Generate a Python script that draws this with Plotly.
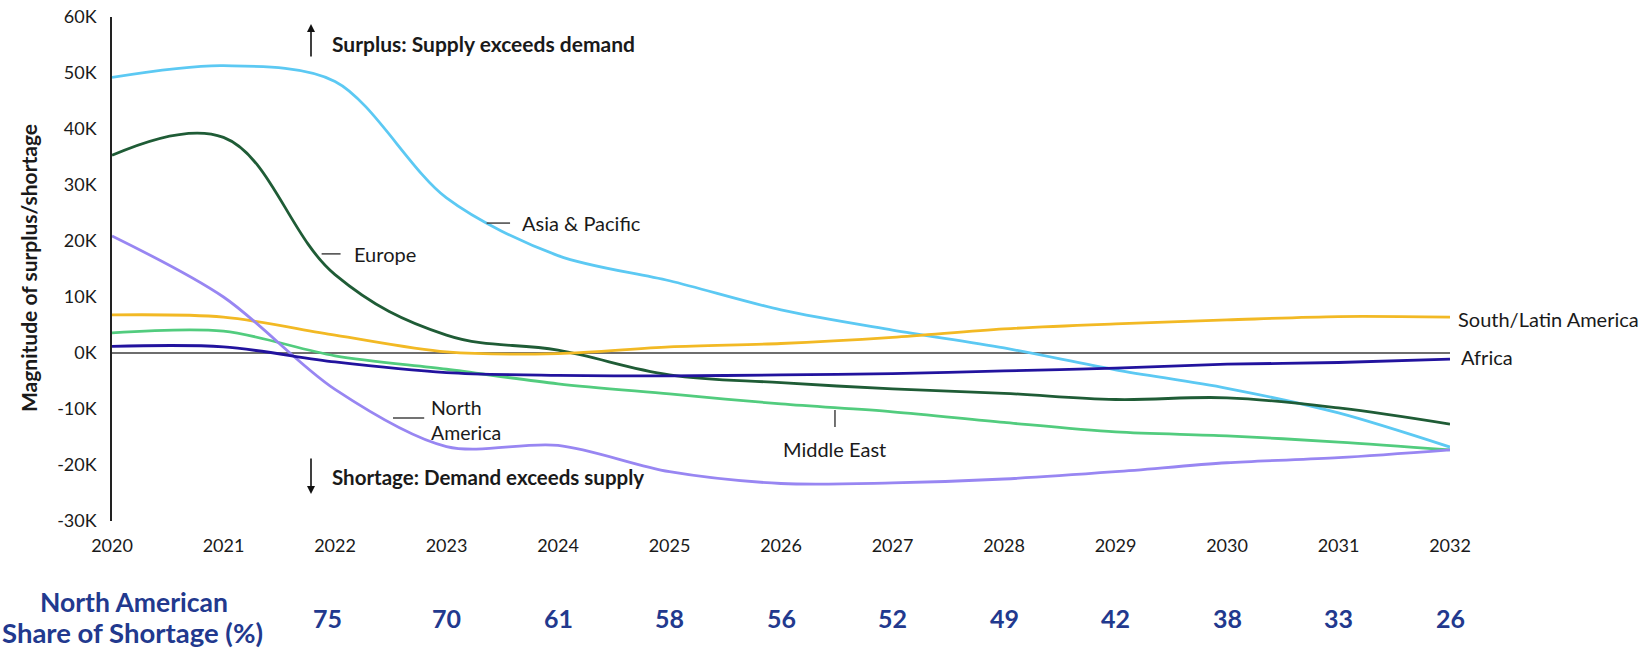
import plotly.graph_objects as go

years = list(range(2020, 2033))

asia_pacific = [49200, 51300, 48500, 27700, 17400, 12900, 7700, 4100, 900, -3000, -6300, -10700, -16800]
europe = [35300, 38500, 14000, 3200, 500, -3900, -5300, -6400, -7200, -8300, -8000, -9800, -12700]
north_america = [20900, 10000, -6500, -16700, -16500, -21200, -23300, -23200, -22500, -21200, -19600, -18700, -17300]
south_latin_america = [6800, 6400, 3200, 200, -100, 1100, 1700, 2800, 4300, 5200, 5900, 6500, 6400]
middle_east = [3600, 3900, -500, -2900, -5500, -7300, -9100, -10500, -12400, -14100, -14800, -15900, -17300]
africa = [1200, 1100, -1600, -3500, -4000, -4100, -3900, -3700, -3200, -2700, -2000, -1700, -1100]

share_years = list(range(2022, 2033))
na_share = [75, 70, 61, 58, 56, 52, 49, 42, 38, 33, 26]

y_ticks = [60000, 50000, 40000, 30000, 20000, 10000, 0, -10000, -20000, -30000]
y_tick_labels = ["60K", "50K", "40K", "30K", "20K", "10K", "0K", "-10K", "-20K", "-30K"]

FONT = "Lato"
TXT = "#1a1a1a"
NAVY = "#22398E"

series = [
    ("Asia & Pacific", asia_pacific, "#5CC9F3", 0.9),
    ("Europe", europe, "#1F5C36", 1.1),
    ("South/Latin America", south_latin_america, "#F2B924", 0.9),
    ("Middle East", middle_east, "#52CC7E", 0.9),
    ("North America", north_america, "#9886F2", 0.9),
    ("Africa", africa, "#22139E", 0.9),
]

fig = go.Figure()
for name, vals, col, sm in series:
    fig.add_trace(go.Scatter(
        x=years, y=vals, name=name, mode="lines",
        line=dict(color=col, width=2.8, shape="spline", smoothing=sm),
        showlegend=False, hoverinfo="x+y+name",
    ))

L, R, T, B = 112, 192, 17, 130
W, H = 1642, 651
pw, ph = W - L - R, H - T - B


def px(xp):
    return (xp - L) / pw


def py(yp):
    return (H - B - yp) / ph


ann = []
# axis title
ann.append(dict(x=px(28), y=py(268), xref="paper", yref="paper", text="<b>Magnitude of surplus/shortage</b>",
                textangle=-90, showarrow=False, xanchor="center", yanchor="middle",
                font=dict(family=FONT, size=21, color=TXT)))
# surplus / shortage notes with arrows
ann.append(dict(x=px(311), y=py(24), xref="paper", yref="paper", ax=0, ay=34, text="",
                showarrow=True, arrowhead=2, arrowsize=1, arrowwidth=1.6, arrowcolor="#111"))
ann.append(dict(x=px(311), y=py(494), xref="paper", yref="paper", ax=0, ay=-37, text="",
                showarrow=True, arrowhead=2, arrowsize=1, arrowwidth=1.6, arrowcolor="#111"))
ann.append(dict(x=px(330), y=py(43), xref="paper", yref="paper", text="<b>Surplus: Supply exceeds demand</b>",
                showarrow=False, xanchor="left", yanchor="middle", font=dict(family=FONT, size=21, color=TXT)))
ann.append(dict(x=px(330), y=py(477), xref="paper", yref="paper", text="<b>Shortage: Demand exceeds supply</b>",
                showarrow=False, xanchor="left", yanchor="middle", font=dict(family=FONT, size=20.5, color=TXT)))

# series labels (data coords)
lab_font = dict(family=FONT, size=20, color=TXT)
ann.append(dict(x=2023.66, y=23200, text="Asia &amp; Pacific", showarrow=False, xanchor="left", yanchor="middle", font=lab_font))
ann.append(dict(x=2022.15, y=17700, text="Europe", showarrow=False, xanchor="left", yanchor="middle", font=lab_font))
ann.append(dict(x=2022.84, y=-12000, text="North<br>America", showarrow=False, xanchor="left", yanchor="middle", align="left",
                font=dict(family=FONT, size=19.5, color=TXT)))
ann.append(dict(x=2026.484, y=-17100, text="Middle East", showarrow=False, xanchor="center", yanchor="middle", font=lab_font))
ann.append(dict(x=2032, y=6000, xshift=6, text="South/Latin America", showarrow=False, xanchor="left", yanchor="middle", font=lab_font))
ann.append(dict(x=2032, y=-700, xshift=9, text="Africa", showarrow=False, xanchor="left", yanchor="middle", font=lab_font))

# bottom table
ann.append(dict(x=px(134), y=py(602), xref="paper", yref="paper",
                text="<b>North American</b>", showarrow=False,
                xanchor="center", yanchor="middle",
                font=dict(family=FONT, size=26.5, color=NAVY)))
ann.append(dict(x=px(132), y=py(632), xref="paper", yref="paper",
                text="<b>Share of Shortage (%)</b>", showarrow=False,
                xanchor="center", yanchor="middle",
                font=dict(family=FONT, size=27.5, color=NAVY)))
for i, (yr, v) in enumerate(zip(share_years, na_share)):
    ann.append(dict(x=yr, y=py(618), xref="x", yref="paper", text=f"<b>{v}</b>", showarrow=False,
                    xshift=-8 if i == 0 else 0,
                    xanchor="center", yanchor="middle", font=dict(family=FONT, size=25, color=NAVY)))

shapes = []
lead = dict(color="#444", width=1.5)
shapes.append(dict(type="line", xref="x", yref="y", x0=2023.36, x1=2023.57, y0=23200, y1=23200, line=lead))
shapes.append(dict(type="line", xref="x", yref="y", x0=2021.88, x1=2022.05, y0=17700, y1=17700, line=lead))
shapes.append(dict(type="line", xref="x", yref="y", x0=2022.52, x1=2022.80, y0=-11600, y1=-11600, line=lead))
shapes.append(dict(type="line", xref="x", yref="y", x0=2026.484, x1=2026.484, y0=-10200, y1=-13200, line=lead))

fig.update_layout(
    width=W, height=H,
    margin=dict(l=L, r=R, t=T, b=B, autoexpand=False),
    paper_bgcolor="white", plot_bgcolor="white",
    font=dict(family=FONT, color=TXT),
    annotations=ann, shapes=shapes,
    xaxis=dict(range=[2020, 2032], tickvals=years, ticktext=[str(y) for y in years],
               showgrid=False, zeroline=False, showline=False, ticks="", automargin=False,
               tickfont=dict(family=FONT, size=18, color=TXT), ticklabelstandoff=12),
    yaxis=dict(range=[-30000, 60000], tickvals=y_ticks, ticktext=y_tick_labels,
               showgrid=False, zeroline=True, zerolinecolor="#6e6e6e", zerolinewidth=1.5,
               showline=True, linecolor="#222", linewidth=1.5, ticks="", automargin=False,
               tickfont=dict(family=FONT, size=18, color=TXT), ticklabelstandoff=10),
)

fig.write_html("out.html", config={"displayModeBar": False},
               post_script="document.body.style.margin='0';document.body.style.overflow='hidden';")
